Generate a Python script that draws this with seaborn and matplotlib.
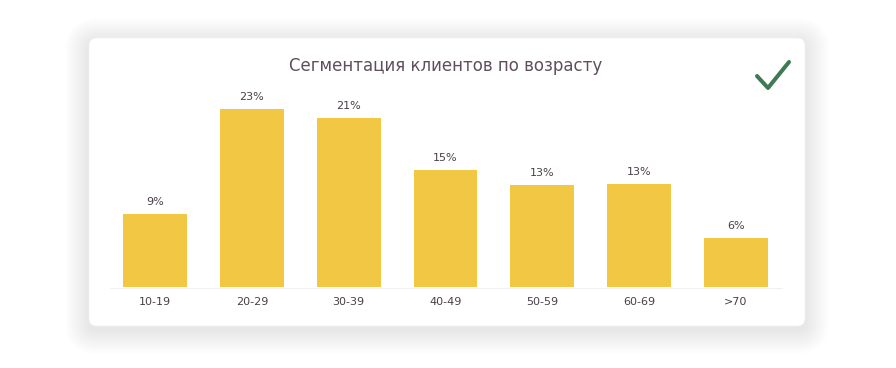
import matplotlib
matplotlib.use("Agg")
import matplotlib.pyplot as plt
from matplotlib.patches import FancyBboxPatch
import seaborn as sns
import pandas as pd

categories = ["10-19", "20-29", "30-39", "40-49", "50-59", "60-69", ">70"]
values = [9.2, 22.5, 21.4, 14.8, 12.9, 13.0, 6.2]
labels = ["9%", "23%", "21%", "15%", "13%", "13%", "6%"]
title = "Сегментация клиентов по возрасту"

sns.set_style("white")
plt.rcParams["font.family"] = ["DejaVu Sans"]

W, H = 896, 368
fig = plt.figure(figsize=(W / 100, H / 100), dpi=100)
fig.patch.set_facecolor("white")

# background / card
bg = fig.add_axes([0, 0, 1, 1], zorder=0)
bg.set_xlim(0, W)
bg.set_ylim(H, 0)
bg.axis("off")
cx0, cy0, cx1, cy1 = 89, 38, 805, 326
for i in range(24, 0, -1):
    p = FancyBboxPatch((cx0 - i, cy0 - i + 4), (cx1 - cx0) + 2 * i, (cy1 - cy0) + 2 * i,
                       boxstyle="round,pad=0,rounding_size=%d" % (8 + i),
                       facecolor="black", edgecolor="none", alpha=0.0028)
    bg.add_patch(p)
card = FancyBboxPatch((cx0, cy0), cx1 - cx0, cy1 - cy0,
                      boxstyle="round,pad=0,rounding_size=8",
                      facecolor="white", edgecolor="#f3f3f3", linewidth=0.5)
bg.add_patch(card)

bg.text(446, 66, title, ha="center", va="center", fontsize=12, color="#5f4f5d")
bg.plot([757, 768, 789], [76, 88, 62], color="#3f7a55", linewidth=2.9,
        solid_capstyle="round", solid_joinstyle="round")
bg.plot([110, 782], [287.5, 287.5], color="#f0f0f0", linewidth=0.8)

# chart
left_px = 155 - 48.4
right_px = 736 + 48.4
base_px = 287
ppu = 7.9
ymax = 25
ax = fig.add_axes([left_px / W, 1 - base_px / H, (right_px - left_px) / W, ymax * ppu / H], zorder=1)
ax.patch.set_alpha(0)

df = pd.DataFrame({"age": categories, "share": values})
sns.barplot(data=df, x="age", y="share", color="#F2C744", saturation=1, width=0.66,
            linewidth=0, ax=ax)
ax.set_xlim(-0.5, len(categories) - 0.5)
ax.set_ylim(0, ymax)
for i, (v, lab) in enumerate(zip(values, labels)):
    ax.annotate(lab, (i, v), xytext=(0, 5), textcoords="offset points",
                ha="center", va="bottom", fontsize=8, color="#4a3f48")
ax.set_xlabel("")
ax.set_ylabel("")
ax.set_yticks([])
ax.tick_params(axis="x", length=0, pad=7, labelsize=8, labelcolor="#4a3f48")
sns.despine(ax=ax, left=True, bottom=True)

fig.savefig("out.png", dpi=100)
